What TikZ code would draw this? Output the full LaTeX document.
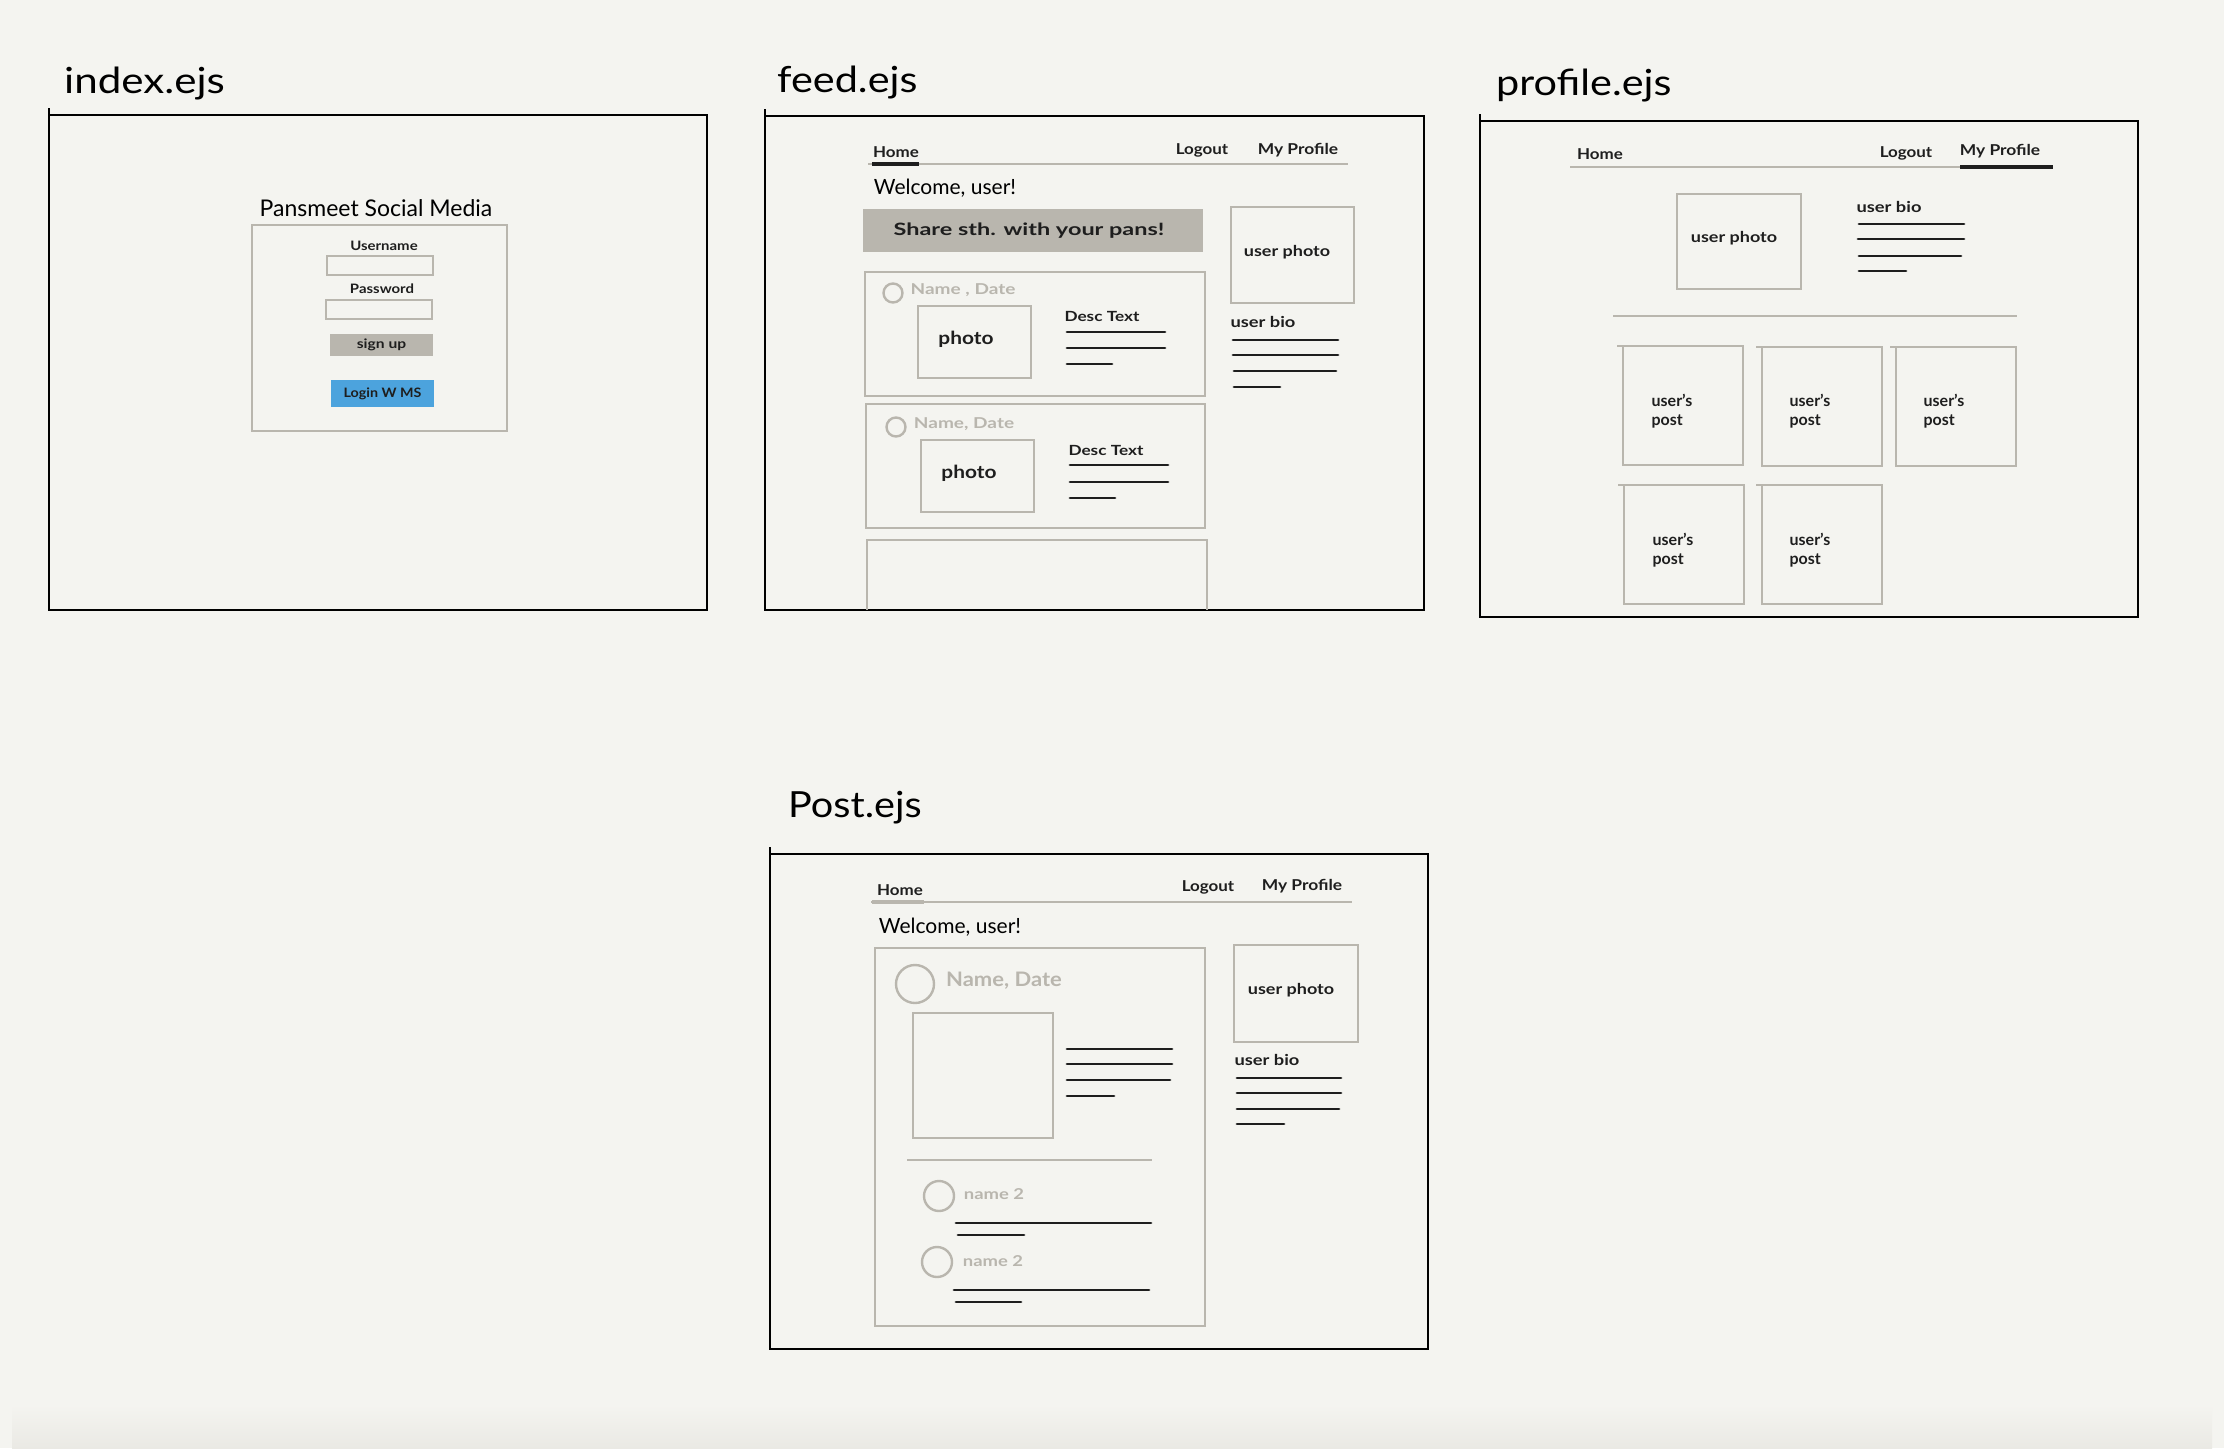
\documentclass[tikz,border=0pt]{standalone}
\usepackage{graphicx}
\usepackage{fontspec}
\setmainfont{Lato}
\newcommand\txtsize[1]{\fontsize{#1}{#1}\selectfont}
% stretch a text horizontally, for the wide hand lettering
\newcommand\wide[2]{\scalebox{#1}[1]{#2}}
\definecolor{paper}{HTML}{F4F4F0}
\definecolor{paperdark}{HTML}{EAE9E4}
\definecolor{wire}{HTML}{B9B6AE}
\definecolor{ink}{HTML}{1E1E1E}
\definecolor{msblue}{HTML}{4CA3DD}
\tikzset{
  frame/.style={draw=black, line width=2.6pt},
  tick/.style={draw=black, line width=1.4pt},
  gbox/.style={draw=wire, line width=2.4pt},
  gline/.style={draw=wire, line width=2.4pt},
  navmark/.style={draw=ink, line width=3.2pt},
  tline/.style={draw=ink, line width=2.8pt, line cap=round},
  avatar/.style={draw=wire, line width=2.4pt},
  ttl/.style={inner sep=0pt, anchor=base west, text=black, font=\txtsize{36}},
  lbl/.style={inner sep=0pt, text=ink, font=\bfseries\txtsize{#1}},
  lbl/.default=15,
  glbl/.style={inner sep=0pt, text=wire, font=\bfseries\txtsize{#1}},
  glbl/.default=15,
  postlbl/.style={inner sep=0pt, text=ink, align=left, font=\bfseries\fontsize{16}{19}\selectfont},
}
\begin{document}
\begin{tikzpicture}[x=1pt, y=-1pt]
% sheet
\fill[paper] (0,0) rectangle (2224,1448);
\shade[top color=paper, bottom color=paperdark] (12,1405) rectangle (2212,1448);
\useasboundingbox (0,0) rectangle (2224,1448);

% ---------------- index.ejs ----------------
\node[ttl] (tindex) at (64,93) {\wide{1.17}{index.ejs}};
\draw[frame] (49,115) rectangle (707,610);
\draw[tick] (49,108) -- (49,115);
\node[inner sep=0pt, font=\txtsize{23}] (brand) at (376,208) {Pansmeet Social Media};
\draw[gbox] (252,225) rectangle (507,431);
\node[lbl=13] (uname) at (384,246) {\wide{1.15}{Username}};
\draw[gbox, line width=2pt] (327,256) rectangle (433,275);
\node[lbl=13] (pword) at (382,289) {\wide{1.15}{Password}};
\draw[gbox, line width=2pt] (326,300) rectangle (432,319);
\node[fill=wire, minimum width=103pt, minimum height=22pt, inner sep=0pt,
      text=ink, font=\bfseries\txtsize{13}] (signup) at (381.5,345) {\wide{1.2}{sign up}};
\node[fill=msblue, minimum width=103pt, minimum height=27pt, inner sep=0pt,
      text=ink, font=\bfseries\txtsize{13}] (loginms) at (382.5,393.5) {\wide{1.1}{Login W MS}};

% ---------------- feed.ejs ----------------
\node[ttl] (tfeed) at (777,92) {\wide{1.15}{feed.ejs}};
\draw[frame] (765,116) rectangle (1424,610);
\draw[tick] (765,109) -- (765,116);
\draw[gline] (868,164) -- (1348,164);
\draw[navmark] (872,164) -- (919,164);
\node[lbl] (fhome) at (896,152) {\wide{1.13}{Home}};
\node[lbl] (flogout) at (1202,150) {\wide{1.13}{Logout}};
\node[lbl] (fprof) at (1298,150) {\wide{1.16}{My Profile}};
\node[inner sep=0pt, font=\txtsize{21}] (fwelcome) at (945,188) {Welcome, user!};
\node[fill=wire, minimum width=340pt, minimum height=43pt, inner sep=0pt] (share) at (1033,230.5) {};
\node[lbl=17] (sharetxt) at (1029,231) {\wide{1.38}{Share sth. with your pans!}};
% first post card
\draw[gbox] (865,272) rectangle (1205,396);
\draw[avatar] (893,293) circle (9.5);
\node[glbl] (fname1) at (963,290) {\wide{1.27}{Name , Date}};
\draw[gbox] (918,306) rectangle (1031,378);
\node[lbl=18] (fphoto1) at (966,339) {\wide{1.16}{photo}};
\node[lbl=14] (fdesc1) at (1102,316) {\wide{1.23}{Desc Text}};
\draw[tline] (1067,332) -- (1165,332);
\draw[tline] (1067,348) -- (1165,348);
\draw[tline] (1067,364) -- (1112,364);
% second post card
\draw[gbox] (866,404) rectangle (1205,528);
\draw[avatar] (896,427) circle (9.5);
\node[glbl] (fname2) at (964,424) {\wide{1.27}{Name, Date}};
\draw[gbox] (921,440) rectangle (1034,512);
\node[lbl=18] (fphoto2) at (969,473) {\wide{1.16}{photo}};
\node[lbl=14] (fdesc2) at (1106,450) {\wide{1.23}{Desc Text}};
\draw[tline] (1070,465) -- (1168,465);
\draw[tline] (1070,482) -- (1168,482);
\draw[tline] (1070,498) -- (1115,498);
% third card, running off the page
\draw[gbox] (867,610) -- (867,540) -- (1207,540) -- (1207,610);
% side column
\draw[gbox] (1231,207) rectangle (1354,303);
\node[lbl=15] (fuphoto) at (1287,252) {\wide{1.2}{user photo}};
\node[lbl=15] (fubio) at (1263,322) {\wide{1.22}{user bio}};
\draw[tline] (1233,340) -- (1338,340);
\draw[tline] (1233,355) -- (1338,355);
\draw[tline] (1234,371) -- (1336,371);
\draw[tline] (1234,387) -- (1280,387);

% ---------------- profile.ejs ----------------
\node[ttl] (tprofile) at (1496,95) {\wide{1.15}{profile.ejs}};
\draw[frame] (1480,121) rectangle (2138,617);
\draw[tick] (1480,114) -- (1480,121);
\draw[gline] (1570,167) -- (2053,167);
\draw[navmark] (1960,167) -- (2053,167);
\node[lbl] (phome) at (1600,154) {\wide{1.13}{Home}};
\node[lbl] (plogout) at (1906,153) {\wide{1.13}{Logout}};
\node[lbl] (pprof) at (2000,151) {\wide{1.16}{My Profile}};
\draw[gbox] (1677,194) rectangle (1801,289);
\node[lbl=15] (puphoto) at (1734,238) {\wide{1.2}{user photo}};
\node[lbl=15] (pubio) at (1889,207) {\wide{1.22}{user bio}};
\draw[tline] (1859,224) -- (1964,224);
\draw[tline] (1858,239) -- (1964,239);
\draw[tline] (1859,256) -- (1961,256);
\draw[tline] (1859,271) -- (1906,271);
\draw[gline] (1613,316) -- (2017,316);
% grid of the user's posts
\foreach \bx/\by/\tx/\ty/\nm in {1623/346/1672/411/pp1, 1762/347/1810/411/pp2, 1896/347/1944/411/pp3,
                                1624/485/1673/550/pp4, 1762/485/1810/550/pp5} {
  \draw[gbox] (\bx,\by) rectangle ++(120,119);
  \draw[gline, line width=1.6pt] (\bx-6,\by) -- (\bx,\by);
  \node[postlbl] (\nm) at (\tx,\ty) {user's\\post};
}

% ---------------- post.ejs ----------------
\node[ttl] (tpost) at (788,817) {\wide{1.1}{Post.ejs}};
\draw[frame] (770,854) rectangle (1428,1349);
\draw[tick] (770,847) -- (770,854);
\draw[gline] (871,902) -- (1352,902);
\draw[gline, line width=3.6pt] (872,902) -- (924,902);
\node[lbl] (shome) at (900,890) {\wide{1.13}{Home}};
\node[lbl] (slogout) at (1208,887) {\wide{1.13}{Logout}};
\node[lbl] (sprof) at (1302,886) {\wide{1.16}{My Profile}};
\node[inner sep=0pt, font=\txtsize{21}] (swelcome) at (950,927) {Welcome, user!};
% the post itself
\draw[gbox] (875,948) rectangle (1205,1326);
\draw[avatar] (915,984) circle (19);
\node[glbl=20] (sname) at (1004,981) {\wide{1.1}{Name, Date}};
\draw[gbox] (913,1013) rectangle (1053,1138);
\draw[tline] (1067,1049) -- (1172,1049);
\draw[tline] (1067,1064) -- (1172,1064);
\draw[tline] (1067,1080) -- (1170,1080);
\draw[tline] (1067,1096) -- (1114,1096);
\draw[gline] (907,1160) -- (1152,1160);
% comments
\draw[avatar] (939,1196) circle (15);
\node[glbl=15] (scom1) at (994,1194) {\wide{1.23}{name 2}};
\draw[tline] (956,1223) -- (1151,1223);
\draw[tline] (958,1235) -- (1024,1235);
\draw[avatar] (937,1262) circle (15);
\node[glbl=15] (scom2) at (993,1261) {\wide{1.23}{name 2}};
\draw[tline] (954,1290) -- (1149,1290);
\draw[tline] (956,1302) -- (1021,1302);
% side column
\draw[gbox] (1234,945) rectangle (1358,1042);
\node[lbl=15] (suphoto) at (1291,990) {\wide{1.2}{user photo}};
\node[lbl=15] (subio) at (1267,1060) {\wide{1.22}{user bio}};
\draw[tline] (1237,1078) -- (1341,1078);
\draw[tline] (1237,1093) -- (1341,1093);
\draw[tline] (1237,1109) -- (1339,1109);
\draw[tline] (1237,1124) -- (1284,1124);
\end{tikzpicture}
\end{document}
